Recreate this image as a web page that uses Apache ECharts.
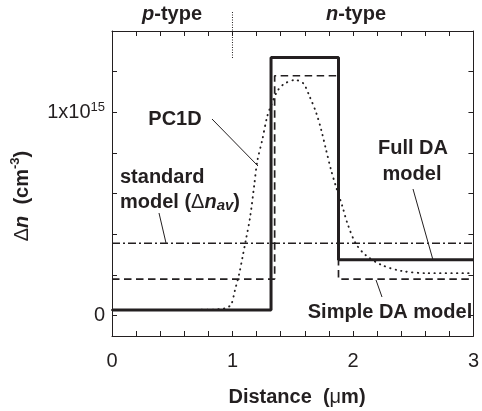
<!DOCTYPE html>
<html>
<head>
<meta charset="utf-8">
<script src="https://cdn.jsdelivr.net/npm/echarts@6/dist/echarts.min.js"></script>
<style>
html, body { margin: 0; padding: 0; background: #fff; }
#chart { width: 482px; height: 411px; }
</style>
</head>
<body>
<div id="chart"></div>
<script>
// values in um (x) and 1e15 cm^-3 (y)
var fullX = [0, 1.32, 1.32, 1.88, 1.88, 3];
var fullY = [0.028, 0.028, 1.27, 1.27, 0.275, 0.275];

var simpleX = [0, 1.35, 1.35, 1.88, 1.88, 3];
var simpleY = [0.18, 0.18, 1.18, 1.18, 0.18, 0.18];

var standardX = [0, 3];
var standardY = [0.356, 0.356];

var pc1dX = [0, 0.5, 0.85, 0.93, 0.96, 0.989, 1.021, 1.057, 1.084, 1.111, 1.147, 1.18, 1.206, 1.247, 1.288,
	1.321, 1.37, 1.424, 1.519, 1.587, 1.641, 1.696, 1.737, 1.777, 1.818, 1.859, 1.913, 1.954, 2.022,
	2.103, 2.239, 2.402, 2.619, 3];
var pc1dY = [0.028, 0.028, 0.03, 0.035, 0.042, 0.053, 0.126, 0.209, 0.29, 0.372, 0.487, 0.64, 0.76, 0.864, 0.979,
	1.035, 1.102, 1.138, 1.159, 1.143, 1.077, 0.996, 0.913, 0.815, 0.717, 0.635, 0.536, 0.454, 0.356,
	0.299, 0.249, 0.22, 0.209, 0.209];

var xTickLabels = [0, 1, 2, 3];
var yTicks = [0, 0.2, 0.4, 0.6, 0.8, 1.0, 1.2, 1.4];
var yTickLabels = [0, 1];

var FONT = 'Liberation Sans, Arial, sans-serif';
var INK = '#231f20';

function pairs(xs, ys) {
	return xs.map(function (x, i) { return [x, ys[i]]; });
}

var myChart = echarts.init(document.getElementById('chart'));

var axisLine = { show: true, onZero: false, lineStyle: { color: INK, width: 1 } };
var tick = { show: true, inside: true, length: 5, lineStyle: { color: INK, width: 1 } };
var yTick = { show: true, inside: true, length: 5, customValues: yTicks, lineStyle: { color: INK, width: 1 } };

var option = {
	animation: false,
	backgroundColor: '#fff',
	grid: { left: 112, right: 2, top: 31, bottom: 75, containLabel: false },
	xAxis: [{
		type: 'value', min: 0, max: 3, interval: 0.2,
		axisLine: axisLine, axisTick: tick, splitLine: { show: false },
		axisLabel: {
			customValues: xTickLabels, margin: 15,
			fontFamily: FONT, fontSize: 20, color: INK,
			formatter: function (v) { return String(Math.round(v)); }
		}
	}, {
		type: 'value', position: 'top', min: 0, max: 3, interval: 0.2,
		axisLine: axisLine, axisTick: tick, splitLine: { show: false },
		axisLabel: { show: false }
	}],
	yAxis: [{
		type: 'value', min: -0.1, max: 1.4, interval: 0.1,
		axisLine: axisLine, axisTick: yTick, splitLine: { show: false },
		axisLabel: {
			customValues: yTickLabels, margin: 7,
			formatter: function (v) { return v < 0.5 ? '{m|0}' : '{m|1x10}{s|15}'; },
			rich: {
				m: { fontFamily: FONT, fontSize: 20, color: INK, lineHeight: 22 },
				s: { fontFamily: FONT, fontSize: 13, color: INK, lineHeight: 6, verticalAlign: 'top' }
			}
		}
	}, {
		type: 'value', position: 'right', min: -0.1, max: 1.4, interval: 0.1,
		axisLine: axisLine, axisTick: yTick, splitLine: { show: false },
		axisLabel: { show: false }
	}],
	series: [{
		name: 'standard model', type: 'line', showSymbol: false,
		data: pairs(standardX, standardY),
		lineStyle: { color: INK, width: 1.4, type: [8, 3, 2, 3] }
	}, {
		name: 'PC1D', type: 'line', showSymbol: false, smooth: 0.3,
		data: pairs(pc1dX, pc1dY),
		lineStyle: { color: INK, width: 1.9, type: [0.4, 5.2], cap: 'round' }
	}, {
		name: 'Simple DA model', type: 'line', showSymbol: false,
		data: pairs(simpleX, simpleY),
		lineStyle: { color: INK, width: 1.7, type: [7.5, 4.5] }
	}, {
		name: 'Full DA model', type: 'line', showSymbol: false,
		data: pairs(fullX, fullY),
		lineStyle: { color: INK, width: 3 }
	}]
};

myChart.setOption(option);

// annotations
var bold = { fontFamily: FONT, fontSize: 20, fontWeight: 'bold', fill: INK, lineHeight: 22 };
var boldIt = { fontFamily: FONT, fontSize: 20, fontWeight: 'bold', fontStyle: 'italic', fill: INK, lineHeight: 22 };
var plain = { fontFamily: FONT, fontSize: 20, fill: INK, lineHeight: 22 };

function label(x, y, text, align) {
	return {
		type: 'text', x: x, y: y, z: 10,
		style: {
			text: text, align: align || 'center', verticalAlign: 'middle',
			fontFamily: FONT, fontSize: 20, fontWeight: 'bold', fill: INK,
			rich: {
				b: bold, bi: boldIt, r: plain,
				sub: { fontFamily: FONT, fontSize: 15, fontWeight: 'bold', fontStyle: 'italic', fill: INK, lineHeight: 4, verticalAlign: 'bottom' },
				mu: { fontFamily: FONT, fontSize: 20, fill: INK, lineHeight: 22 }
			}
		}
	};
}

function leader(x1, y1, x2, y2) {
	return {
		type: 'line', z: 10,
		shape: { x1: x1, y1: y1, x2: x2, y2: y2 },
		style: { stroke: INK, lineWidth: 1 }
	};
}

var junction = myChart.convertToPixel({ gridIndex: 0 }, [1, 0])[0];

myChart.setOption({
	graphic: [
		{
			type: 'line', z: 10,
			shape: { x1: junction, y1: 12, x2: junction, y2: 59 },
			style: { stroke: INK, lineWidth: 1, lineDash: [1, 1.5] }
		},
		label(172, 14, '{bi|p}{b|-type}'),
		label(356, 14, '{bi|n}{b|-type}'),
		label(175, 119, '{b|PC1D}'),
		leader(212, 119, 258, 166),
		label(120, 177, '{b|standard}', 'left'),
		label(120, 202, '{b|model (}{r|\u0394}{bi|n}{sub|av}{b|)}', 'left'),
		leader(159, 213, 166, 243),
		label(413, 148, '{b|Full DA}'),
		label(412, 174, '{b|model}'),
		leader(413, 189, 433, 260),
		label(390, 312, '{b|Simple DA model}'),
		leader(376, 280, 382, 297),
		label(297, 397, '{b|Distance  (}{mu|\u03bc}{b|m)}'),
		{
			type: 'text', x: 22, y: 196, rotation: Math.PI / 2, z: 10,
			style: {
				text: '{r|\u0394}{bi|n}{b|  (cm}{sup|-3}{b|)}',
				align: 'center', verticalAlign: 'middle',
				rich: {
					r: { fontFamily: FONT, fontSize: 20, fill: INK, lineHeight: 26 },
					bi: { fontFamily: FONT, fontSize: 20, fontWeight: 'bold', fontStyle: 'italic', fill: INK, lineHeight: 26 },
					b: { fontFamily: FONT, fontSize: 20, fontWeight: 'bold', fill: INK, lineHeight: 26 },
					sup: { fontFamily: FONT, fontSize: 13, fontWeight: 'bold', fill: INK, lineHeight: 2, verticalAlign: 'top' }
				}
			}
		}
	]
});
</script>
</body>
</html>
